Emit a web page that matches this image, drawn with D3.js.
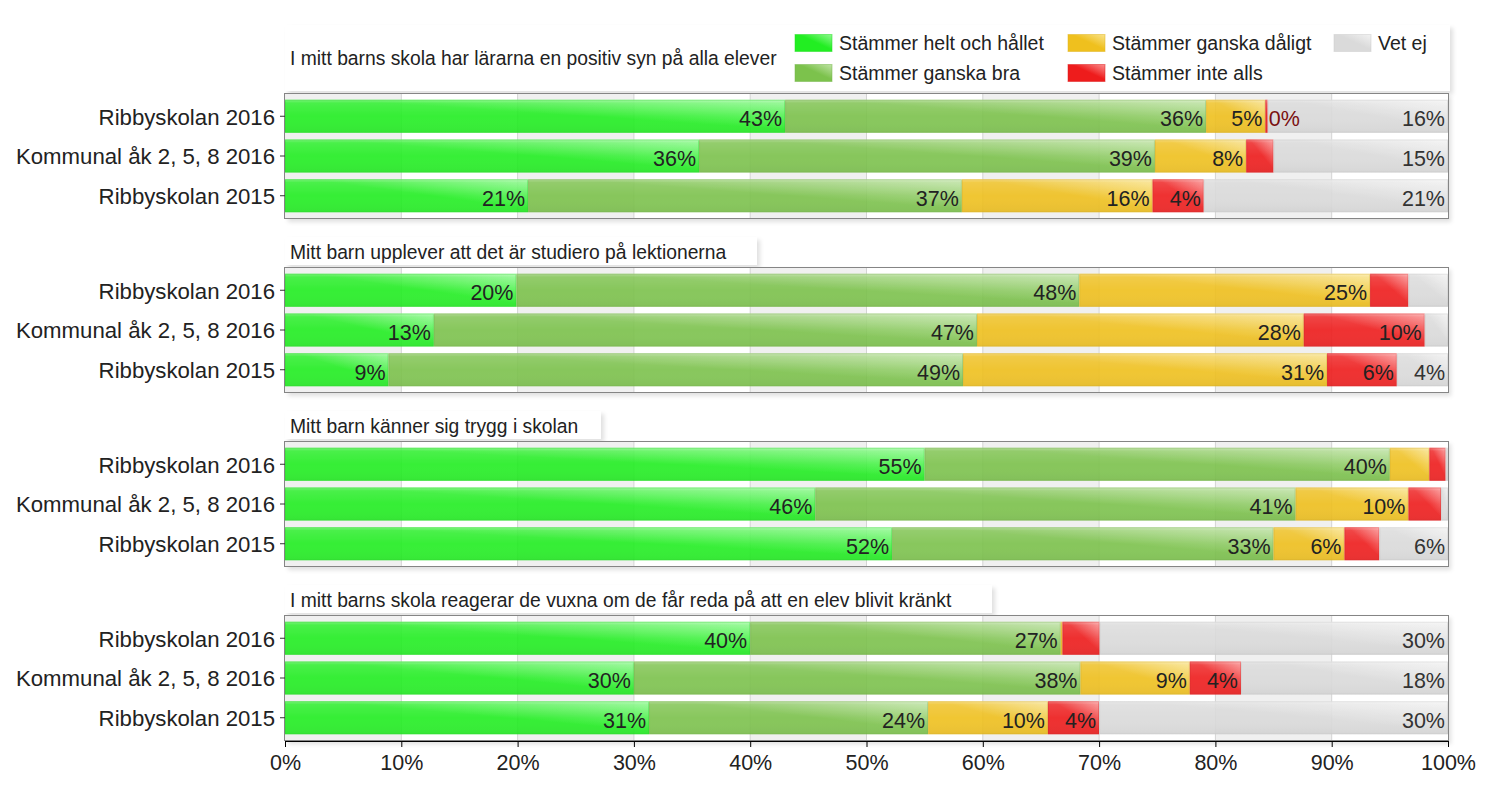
<!DOCTYPE html>
<html><head><meta charset="utf-8">
<script src="https://cdn.jsdelivr.net/npm/d3@7"></script>
<style>
html,body{margin:0;padding:0;background:#fff;}
text{font-family:"Liberation Sans",Arial,sans-serif;}
</style></head>
<body>
<svg id="chart" width="1500" height="791"></svg>
<script>
// ---------- DATA ----------
const questions = [
  "I mitt barns skola har lärarna en positiv syn på alla elever",
  "Mitt barn upplever att det är studiero på lektionerna",
  "Mitt barn känner sig trygg i skolan",
  "I mitt barns skola reagerar de vuxna om de får reda på att en elev blivit kränkt"
];
const groups = ["Ribbyskolan 2016", "Kommunal åk 2, 5, 8 2016", "Ribbyskolan 2015"];
const seriesNames = ["Stämmer helt och hållet", "Stämmer ganska bra", "Stämmer ganska dåligt", "Stämmer inte alls", "Vet ej"];
// values per question, per group (percent)
const heltOchHallet = [[43.0, 35.6, 20.9], [19.9, 12.8, 8.9], [55.0, 45.6, 52.2], [40.0, 30.0, 31.3]];
const gansakBra     = [[36.2, 39.2, 37.3], [48.4, 46.7, 49.4], [40.0, 41.3, 32.8], [26.7, 38.4, 24.0]];
const ganskaDaligt  = [[5.1, 7.85, 16.4], [25.0, 28.1, 31.3], [3.4, 9.7, 6.1], [0.15, 9.4, 10.3]];
const inteAlls      = [[0.2, 2.35, 4.4], [3.3, 10.4, 6.0], [1.4, 2.8, 3.0], [3.2, 4.4, 4.4]];
const vetEj         = [[15.5, 15.0, 21.0], [3.4, 2.0, 4.4], [0.2, 0.6, 5.9], [29.95, 17.8, 30.0]];
const seriesValues = [heltOchHallet, gansakBra, ganskaDaligt, inteAlls, vetEj];
const xTicks = [0, 10, 20, 30, 40, 50, 60, 70, 80, 90, 100];
// labels placed outside a tiny segment: [question, group, series]
const outsideLabels = [[0, 0, 3]];

// ---------- STYLE ----------
const baseColors  = ["#22ee22", "#7cc24c", "#efc01e", "#ee1c1c", "#dadada"];
const lightColors = ["#8ff98f", "#bfe3a5", "#f9e38c", "#fb8f8f", "#f2f2f2"];
const X0 = 285, X1 = 1448;
const panelTops = [93, 267, 441, 615];
const panelH = 126;
const titleRight = [1450, 757, 601, 992];
const FONT = "Liberation Sans, Arial, sans-serif";

const svg = d3.select("#chart");
const defs = svg.append("defs");
const sh = defs.append("filter").attr("id", "shadow").attr("x", "-5%").attr("y", "-20%").attr("width", "110%").attr("height", "140%");
sh.append("feDropShadow").attr("dx", 3).attr("dy", 3).attr("stdDeviation", 2).attr("flood-color", "#000").attr("flood-opacity", 0.12);

seriesNames.forEach((s, i) => {
  const g = defs.append("linearGradient").attr("id", "grad" + i)
    .attr("x1", 0).attr("y1", 1).attr("x2", 1).attr("y2", 0);
  g.append("stop").attr("offset", 0).attr("stop-color", baseColors[i]);
  g.append("stop").attr("offset", 0.55).attr("stop-color", baseColors[i]);
  g.append("stop").attr("offset", 1).attr("stop-color", lightColors[i]);
});
const gloss = defs.append("linearGradient").attr("id", "gloss").attr("x1", 0).attr("y1", 0).attr("x2", 0).attr("y2", 1);
gloss.append("stop").attr("offset", 0).attr("stop-color", "#fff").attr("stop-opacity", 0.35);
gloss.append("stop").attr("offset", 0.1).attr("stop-color", "#fff").attr("stop-opacity", 0.1);
gloss.append("stop").attr("offset", 0.5).attr("stop-color", "#fff").attr("stop-opacity", 0);
gloss.append("stop").attr("offset", 1).attr("stop-color", "#000").attr("stop-opacity", 0.04);
const sep = defs.append("linearGradient").attr("id", "sep").attr("x1", 0).attr("y1", 0).attr("x2", 1).attr("y2", 0);
sep.append("stop").attr("offset", 0).attr("stop-color", "#fff");
sep.append("stop").attr("offset", 0.35).attr("stop-color", "#ccc");
sep.append("stop").attr("offset", 0.8).attr("stop-color", "#bbb");
sep.append("stop").attr("offset", 1).attr("stop-color", "#e0e0e0");

const x = d3.scaleLinear().domain([0, 100]).range([X0, X1]);

questions.forEach((q, qi) => {
  const top = panelTops[qi];
  const y = d3.scaleBand().domain(groups).range([top, top + panelH]).paddingInner(0.17).paddingOuter(0.17);

  // title box
  const tTop = qi === 0 ? 25 : top - 30;
  svg.append("rect").attr("x", X0).attr("y", tTop).attr("width", titleRight[qi] - X0).attr("height", top - 2 - tTop)
    .attr("fill", "#fff").attr("filter", "url(#shadow)");
  svg.append("text").attr("x", X0 + 5).attr("y", qi === 0 ? 58 : top - 15).attr("dy", "0.35em")
    .attr("font-size", 19.3).attr("fill", "#222").text(q);

  // panel background with shadow
  svg.append("rect").attr("x", X0).attr("y", top).attr("width", X1 - X0).attr("height", panelH)
    .attr("fill", "#fff").attr("filter", "url(#shadow)");
  const bands = d3.range(0, 100, 20);
  svg.append("g").selectAll("rect").data(bands).join("rect")
    .attr("x", d => x(d)).attr("y", top).attr("width", d => x(d + 10) - x(d)).attr("height", panelH)
    .attr("fill", "#f0f0f0");
  svg.append("g").selectAll("line").data(xTicks.slice(1, -1)).join("line")
    .attr("x1", d => x(d)).attr("x2", d => x(d)).attr("y1", top).attr("y2", top + panelH)
    .attr("stroke", "#d4d4d4").attr("stroke-width", 1);

  // bars
  groups.forEach((gname, gi) => {
    let cum = 0;
    const segs = seriesValues.map((sv, si) => {
      const v = sv[qi][gi];
      const s = {si, v, start: cum, end: cum + v};
      cum += v;
      return s;
    });
    const gg = svg.append("g").attr("opacity", 0.9);
    segs.forEach(s => {
      const w = x(s.end) - x(s.start);
      if (w <= 0) return;
      gg.append("rect").attr("x", x(s.start)).attr("y", y(gname)).attr("width", w).attr("height", y.bandwidth())
        .attr("fill", `url(#grad${s.si})`);
      gg.append("rect").attr("x", x(s.start)).attr("y", y(gname)).attr("width", w).attr("height", y.bandwidth())
        .attr("fill", "url(#gloss)");
      gg.append("rect").attr("x", x(s.start) + 0.5).attr("y", y(gname) + 0.5).attr("width", Math.max(0, w - 1)).attr("height", y.bandwidth() - 1)
        .attr("fill", "none").attr("stroke", d3.color(baseColors[s.si]).darker(0.4)).attr("stroke-opacity", 0.35);
    });
    segs.forEach(s => {
      if (s.v >= 4) {
        svg.append("text").attr("x", x(s.end) - 3).attr("y", y(gname) + y.bandwidth() / 2 + 2.5).attr("dy", "0.35em")
          .attr("text-anchor", "end").attr("font-size", 21.5).attr("fill", s.si === 4 ? "#333" : "#222")
          .text(Math.round(s.v) + "%");
      }
    });
    outsideLabels.filter(o => o[0] === qi && o[1] === gi).forEach(o => {
      const s = segs[o[2]];
      svg.append("text").attr("x", x(s.end) + 1).attr("y", y(gname) + y.bandwidth() / 2 + 2.5).attr("dy", "0.35em")
        .attr("font-size", 21.5).attr("fill", "#7a1010").text(Math.round(s.v) + "%");
    });
  });

  // frame
  svg.append("rect").attr("x", X0 - 0.5).attr("y", top + 0.5).attr("width", X1 - X0 + 1).attr("height", panelH - 1)
    .attr("fill", "none").attr("stroke", "#858585");

  // separators between y labels
  groups.slice(1).forEach(gname => {
    const yy = Math.round(y(gname) - (y.step() - y.bandwidth()) / 2) + 0.5;
    svg.append("line").attr("x1", 15).attr("x2", 280).attr("y1", yy).attr("y2", yy)
      .attr("stroke", "url(#sep)").attr("stroke-width", 1);
  });

  // y axis
  const ya = svg.append("g").attr("transform", `translate(${X0},0)`)
    .call(d3.axisLeft(y).tickSize(5).tickPadding(5));
  ya.select(".domain").remove();
  ya.selectAll(".tick line").attr("stroke", "#333");
  ya.selectAll(".tick text").attr("font-size", 22.2).attr("fill", "#222").attr("font-family", FONT).attr("dy", "0.38em");

  if (qi === questions.length - 1) {
    const xa = svg.append("g").attr("transform", `translate(0,${top + panelH})`)
      .call(d3.axisBottom(x).tickValues(xTicks).tickFormat(d => d + "%").tickSize(6).tickPadding(8));
    xa.select(".domain").attr("stroke", "#000");
    xa.selectAll(".tick line").attr("stroke", "#000");
    xa.selectAll(".tick text").attr("font-size", 21.5).attr("fill", "#222").attr("font-family", FONT);
  }
});

// legend
const legendPos = [[795, 43], [795, 73], [1068, 43], [1068, 73], [1334, 43]];
const lg = svg.append("g");
seriesNames.forEach((s, i) => {
  const [lx, ly] = legendPos[i];
  lg.append("rect").attr("x", lx).attr("y", ly - 8.5).attr("width", 37).attr("height", 17)
    .attr("fill", `url(#grad${i})`).attr("stroke", d3.color(baseColors[i]).darker(0.2)).attr("stroke-opacity", 0.5);
  lg.append("text").attr("x", lx + 44).attr("y", ly).attr("dy", "0.35em").attr("font-size", 19.5).attr("fill", "#222").text(s);
});
</script>
</body></html>
